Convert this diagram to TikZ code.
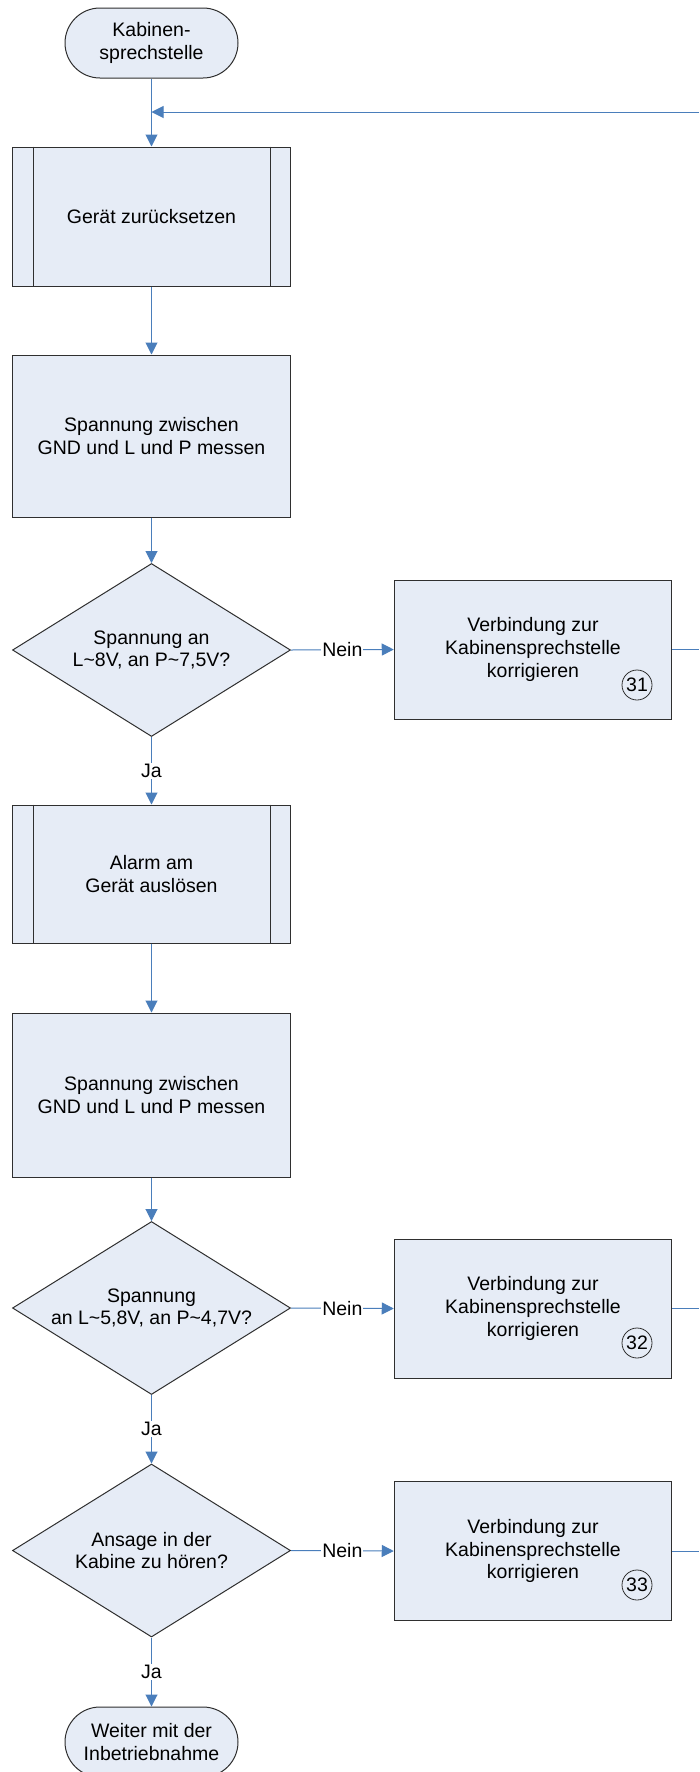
\documentclass[tikz,border=0pt]{standalone}
\usepackage{fontspec}
\setmainfont{Liberation Sans}
\usetikzlibrary{arrows.meta,shapes.geometric,calc}
\definecolor{boxfill}{HTML}{E6ECF6}
\definecolor{linkblue}{HTML}{4A7EBB}
\definecolor{edgegray}{HTML}{2F2F2F}
\tikzset{
  every node/.style={font=\fontsize{19.5}{22.7}\selectfont, align=center},
  procbox/.style={draw=edgegray, line width=1pt, fill=boxfill, rectangle, minimum width=278pt, inner sep=0pt},
  fixbox/.style={draw=edgegray, line width=1pt, fill=boxfill, rectangle, minimum width=277.5pt, minimum height=139pt, inner sep=0pt},
  termbox/.style={draw=edgegray, line width=1pt, fill=boxfill, rectangle, rounded corners=35pt, minimum width=173pt, minimum height=70pt, inner sep=0pt},
  decision/.style={draw=edgegray, line width=1pt, fill=boxfill, diamond, aspect=1.607, minimum width=278pt, minimum height=173pt, inner sep=0pt},
  numcircle/.style={draw=edgegray, line width=0.8pt, circle, minimum size=30pt, inner sep=0pt},
  flow/.style={draw=linkblue, line width=1pt, -{Triangle[length=12pt,width=12pt]}},
  plainflow/.style={draw=linkblue, line width=1pt},
  lbl/.style={fill=white, inner sep=1pt}
}
\begin{document}
\begin{tikzpicture}[x=1pt,y=1pt]
\clip (0,0) rectangle (699,-1772);
\fill[white] (0,0) rectangle (699,-1772);

% nodes
\node[termbox] (start) at (151.5,-43) {Kabinen-\\sprechstelle};
\node[procbox, minimum height=139pt] (reset) at (151.5,-216.5) {Gerät zurücksetzen};
\draw[edgegray, line width=1pt] ($(reset.north west)+(21,0)$) -- ($(reset.south west)+(21,0)$);
\draw[edgegray, line width=1pt] ($(reset.north east)+(-21,0)$) -- ($(reset.south east)+(-21,0)$);
\node[procbox, minimum height=162pt] (meas1) at (151.5,-436) {Spannung zwischen\\GND und L und P messen};
\node[decision] (dec1) at (151.5,-650) {Spannung an\\L\textasciitilde 8V, an P\textasciitilde 7,5V?};
\node[fixbox] (fix1) at (533,-649.5) {Verbindung zur\\Kabinensprechstelle\\korrigieren};
\node[numcircle] (n31) at (637,-685) {31};
\node[procbox, minimum height=138pt] (alarm) at (151.5,-874) {Alarm am\\Gerät auslösen};
\draw[edgegray, line width=1pt] ($(alarm.north west)+(21,0)$) -- ($(alarm.south west)+(21,0)$);
\draw[edgegray, line width=1pt] ($(alarm.north east)+(-21,0)$) -- ($(alarm.south east)+(-21,0)$);
\node[procbox, minimum height=164pt] (meas2) at (151.5,-1095) {Spannung zwischen\\GND und L und P messen};
\node[decision] (dec2) at (151.5,-1308) {Spannung\\an L\textasciitilde 5,8V, an P\textasciitilde 4,7V?};
\node[fixbox] (fix2) at (533,-1308.5) {Verbindung zur\\Kabinensprechstelle\\korrigieren};
\node[numcircle] (n32) at (637,-1343) {32};
\node[decision] (dec3) at (151.5,-1550.5) {Ansage in der\\Kabine zu hören?};
\node[fixbox] (fix3) at (533,-1551) {Verbindung zur\\Kabinensprechstelle\\korrigieren};
\node[numcircle] (n33) at (637,-1585) {33};
\node[termbox] (end) at (151.5,-1742) {Weiter mit der\\Inbetriebnahme};

% return coordinates at the right edge
\coordinate (r0) at (699,-112);
\coordinate (r1) at (699,-649.5);
\coordinate (r2) at (699,-1308.5);
\coordinate (r3) at (699,-1551);
\coordinate (j0) at (151.5,-112);

% connectors
\draw[flow] (start.south) -- (reset.north);
\draw[flow] (r0) -- (j0);
\draw[flow] (reset.south) -- (meas1.north);
\draw[flow] (meas1.south) -- (dec1.north);
\draw[flow] (dec1.east) -- node[lbl]{Nein} (fix1.west);
\draw[plainflow] (fix1.east) -- (r1);
\draw[flow] (dec1.south) -- node[lbl]{Ja} (alarm.north);
\draw[flow] (alarm.south) -- (meas2.north);
\draw[flow] (meas2.south) -- (dec2.north);
\draw[flow] (dec2.east) -- node[lbl]{Nein} (fix2.west);
\draw[plainflow] (fix2.east) -- (r2);
\draw[flow] (dec2.south) -- node[lbl]{Ja} (dec3.north);
\draw[flow] (dec3.east) -- node[lbl]{Nein} (fix3.west);
\draw[plainflow] (fix3.east) -- (r3);
\draw[flow] (dec3.south) -- node[lbl]{Ja} (end.north);
\end{tikzpicture}
\end{document}
